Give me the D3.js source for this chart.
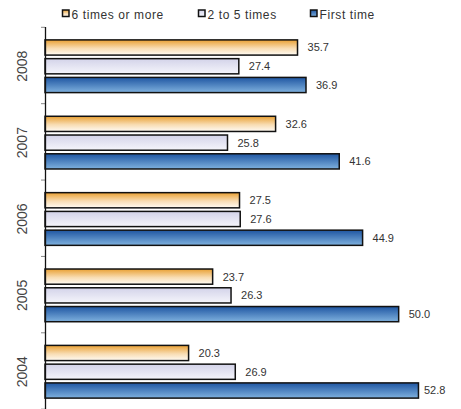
<!DOCTYPE html>
<html><head><meta charset="utf-8">
<script src="https://cdn.jsdelivr.net/npm/d3@7"></script>
<style>body{margin:0;background:#fff}svg{display:block}text{font-family:"Liberation Sans",Arial,sans-serif}</style>
</head><body><svg id="c" width="461" height="409"></svg>
<script>
const years = ["2008","2007","2006","2005","2004"];
const seriesNames = ["6 times or more","2 to 5 times","First time"];
const sixOrMore = [35.7,32.6,27.5,23.7,20.3];
const twoToFive = [27.4,25.8,27.6,26.3,26.9];
const firstTime = [36.9,41.6,44.9,50.0,52.8];
const seriesValues = [sixOrMore,twoToFive,firstTime];
const gradStops = [
  [["0%","#e9a033"],["55%","#f8dcb2"],["100%","#fffbf4"]],
  [["0%","#d3d3e9"],["100%","#f5f5fb"]],
  [["0%","#1f56a2"],["100%","#7fb1de"]]
];

const svg = d3.select("#c");
const W = 461;
const defs = svg.append("defs");
gradStops.forEach((st,i)=>{
  const g = defs.append("linearGradient").attr("id","g"+i).attr("x1",0).attr("y1",0).attr("x2",0).attr("y2",1);
  st.forEach(s=>g.append("stop").attr("offset",s[0]).attr("stop-color",s[1]));
});

const x = d3.scaleLinear().domain([0,60]).range([45,45+424.4]);
const y0 = d3.scaleBand().domain(years).range([27.3,410.7]).paddingInner(0.31).paddingOuter(0.165);
const y1 = d3.scaleBand().domain(seriesNames).range([0,y0.bandwidth()]).paddingInner(0.19);

// axis ticks at band boundaries
const step = y0.step();
const bounds = d3.range(years.length+1).map(i=>27.3+i*step);
svg.append("g").selectAll("line").data(bounds).join("line")
  .attr("x1",41).attr("x2",45).attr("y1",d=>d).attr("y2",d=>d)
  .attr("stroke","#888").attr("stroke-width",1);

const data = [];
years.forEach((yr,i)=>seriesNames.forEach((s,j)=>data.push({yr,s,j,v:seriesValues[j][i]})));

svg.append("g").selectAll("rect").data(data).join("rect")
  .attr("x",x(0))
  .attr("y",d=>y0(d.yr)+y1(d.s))
  .attr("width",d=>x(d.v)-x(0))
  .attr("height",y1.bandwidth())
  .attr("fill",d=>`url(#g${d.j})`)
  .attr("stroke","#111").attr("stroke-width",1.5);

svg.append("line").attr("x1",45.5).attr("x2",45.5).attr("y1",27).attr("y2",409)
  .attr("stroke","#111").attr("stroke-width",1.3);

svg.append("g").selectAll("text").data(data).join("text")
  .attr("x",d=>Math.min(x(d.v)+10, W-37))
  .attr("y",d=>y0(d.yr)+y1(d.s)+y1.bandwidth()/2)
  .attr("dy","0.36em")
  .attr("font-size",11).attr("fill","#333")
  .text(d=>d3.format(".1f")(d.v));

svg.append("g").selectAll("text").data(years).join("text")
  .attr("transform",d=>`translate(27,${y0(d)+y0.bandwidth()/2}) rotate(-90)`)
  .attr("text-anchor","middle")
  .attr("font-size",14).attr("fill","#444")
  .text(d=>d);

// legend
const legX = [62,198,310];
const leg = svg.append("g").selectAll("g").data(seriesNames).join("g")
  .attr("transform",(d,i)=>`translate(${legX[i]},0)`);
leg.append("rect").attr("x",0.5).attr("y",10).attr("width",6.5).attr("height",6.5)
  .attr("fill",(d,i)=>`url(#g${i})`).attr("stroke","#111").attr("stroke-width",1.5);
leg.append("text").attr("x",9.5).attr("y",18.5).attr("font-size",12).attr("letter-spacing","0.6px")
  .attr("fill","#333").text(d=>d);
</script></body></html>
